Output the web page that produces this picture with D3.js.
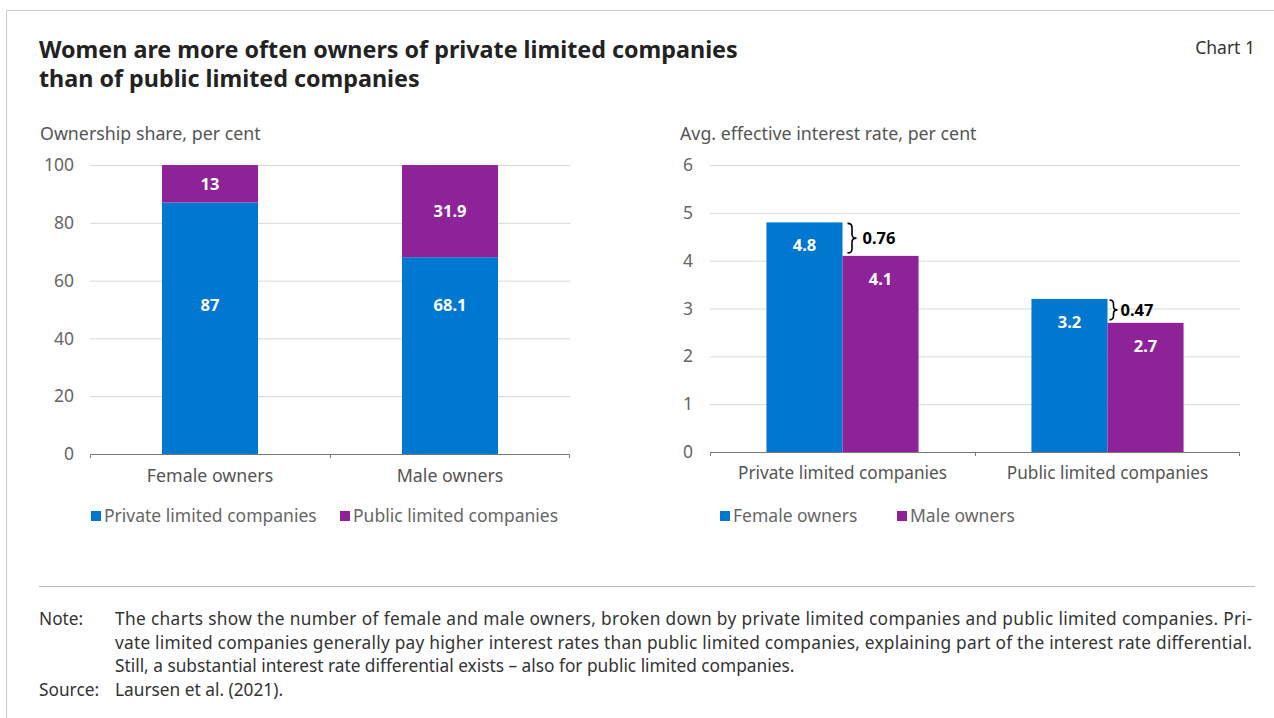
<!DOCTYPE html>
<html>
<head>
<meta charset="utf-8">
<script src="https://cdn.jsdelivr.net/npm/d3@7"></script>
<style>
  body { margin: 0; background: #fff; }
  svg { display: block; }
  text { font-family: "Noto Sans", sans-serif; }
</style>
</head>
<body>
<div id="chart"></div>
<script>
// ownership shares (left panel)
const owners = ["Female owners", "Male owners"];
const privateShare = [87, 68.1];
const publicShare = [13, 31.9];
const shareTicks = [0, 20, 40, 60, 80, 100];

// interest rates (right panel)
const companyTypes = ["Private limited companies", "Public limited companies"];
const femaleRate = [4.8, 3.2];
const maleRate = [4.1, 2.7];
const rateGap = [0.76, 0.47];
const rateTicks = [0, 1, 2, 3, 4, 5, 6];

const noteLines = [
  "The charts show the number of female and male owners, broken down by private limited companies and public limited companies. Pri-",
  "vate limited companies generally pay higher interest rates than public limited companies, explaining part of the interest rate differential.",
  "Still, a substantial interest rate differential exists \u2013 also for public limited companies."
];

const blue = "#0078d0", purple = "#8e2298";
const width = 1274, height = 718;

const svg = d3.select("#chart").append("svg")
  .attr("width", width).attr("height", height);

// frame
svg.append("path").attr("d", "M6.5,718 V10.5 H1274")
  .attr("fill", "none").attr("stroke", "#c8c8c8");

// title
const title = svg.append("text").attr("x", 39).attr("y", 58)
  .attr("font-size", 23.3).attr("font-weight", 700).attr("fill", "#222");
title.append("tspan").attr("x", 39).text("Women are more often owners of private limited companies");
title.append("tspan").attr("x", 39).attr("dy", 29).text("than of public limited companies");

svg.append("text").attr("x", 1255).attr("y", 54).attr("text-anchor", "end")
  .attr("font-size", 17.5).attr("fill", "#333").text("Chart 1");

// ---- left panel: stacked bars
const x1 = d3.scaleBand().domain(owners).range([90, 570]).paddingInner(0.6).paddingOuter(0.3);
const y1 = d3.scaleLinear().domain([0, 100]).range([454, 165]);

svg.append("text").attr("x", 40).attr("y", 140).attr("font-size", 17.8).attr("fill", "#555")
  .text("Ownership share, per cent");

const g1 = svg.append("g");
g1.append("g").selectAll("line").data(shareTicks.slice(1)).join("line")
  .attr("x1", 90).attr("x2", 570)
  .attr("y1", d => y1(d) + 0.5).attr("y2", d => y1(d) + 0.5)
  .attr("stroke", "#d9d9d9");
g1.append("g").selectAll("text").data(shareTicks).join("text")
  .attr("x", 74).attr("y", d => y1(d)).attr("dy", "0.35em")
  .attr("text-anchor", "end").attr("font-size", 17.5).attr("fill", "#666")
  .text(d => d);

g1.append("g").selectAll("rect").data(owners).join("rect")
  .attr("x", d => x1(d)).attr("width", x1.bandwidth())
  .attr("y", (d, i) => y1(privateShare[i]))
  .attr("height", (d, i) => y1(0) - y1(privateShare[i]))
  .attr("fill", blue);
g1.append("g").selectAll("rect").data(owners).join("rect")
  .attr("x", d => x1(d)).attr("width", x1.bandwidth())
  .attr("y", (d, i) => y1(privateShare[i] + publicShare[i]))
  .attr("height", (d, i) => y1(privateShare[i]) - y1(privateShare[i] + publicShare[i]))
  .attr("fill", purple);

// value labels
g1.append("g").selectAll("text").data(owners).join("text")
  .attr("x", d => x1(d) + x1.bandwidth() / 2)
  .attr("y", y1(51.5)).attr("dy", "0.35em")
  .attr("text-anchor", "middle").attr("font-size", 16.5).attr("font-weight", 700).attr("fill", "#fff")
  .text((d, i) => privateShare[i]);
g1.append("g").selectAll("text").data(owners).join("text")
  .attr("x", d => x1(d) + x1.bandwidth() / 2)
  .attr("y", (d, i) => y1(privateShare[i] + publicShare[i] / 2)).attr("dy", "0.35em")
  .attr("text-anchor", "middle").attr("font-size", 16.5).attr("font-weight", 700).attr("fill", "#fff")
  .text((d, i) => publicShare[i]);

// x axis
const ax1 = g1.append("g").attr("transform", "translate(0,454)")
  .call(d3.axisBottom(x1).tickSize(0).tickPadding(15));
ax1.select(".domain").attr("stroke", "#777").attr("d", "M90.5,4V0.5H569.5V4");
ax1.append("line").attr("x1", 330.5).attr("x2", 330.5).attr("y1", 0).attr("y2", 4).attr("stroke", "#777");
ax1.selectAll(".tick text").attr("font-size", 17.8).attr("fill", "#555")
  .attr("font-family", "Noto Sans, sans-serif");

// legend
function legend(g, items, xs, y) {
  items.forEach((it, i) => {
    g.append("rect").attr("x", xs[i]).attr("y", y - 5).attr("width", 10).attr("height", 10).attr("fill", it.c);
    g.append("text").attr("x", xs[i] + 13).attr("y", y).attr("dy", "0.35em")
      .attr("font-size", 17.5).attr("fill", "#666").text(it.t);
  });
}
legend(svg.append("g"), [{ t: companyTypes[0], c: blue }, { t: companyTypes[1], c: purple }], [91, 340], 516);

// ---- right panel: grouped bars
const x2 = d3.scaleBand().domain(companyTypes).range([710, 1240]).paddingInner(0.426).paddingOuter(0.213);
const sub = d3.scaleBand().domain(["f", "m"]).range([0, x2.bandwidth()]);
const y2 = d3.scaleLinear().domain([0, 6]).range([452, 165]);

svg.append("text").attr("x", 680).attr("y", 140).attr("font-size", 17.8).attr("fill", "#555")
  .text("Avg. effective interest rate, per cent");

const g2 = svg.append("g");
g2.append("g").selectAll("line").data(rateTicks.slice(1)).join("line")
  .attr("x1", 710).attr("x2", 1240)
  .attr("y1", d => y2(d) + 0.5).attr("y2", d => y2(d) + 0.5)
  .attr("stroke", "#d9d9d9");
g2.append("g").selectAll("text").data(rateTicks).join("text")
  .attr("x", 693).attr("y", d => y2(d)).attr("dy", "0.35em")
  .attr("text-anchor", "end").attr("font-size", 17.5).attr("fill", "#666")
  .text(d => d);

const series = [{ k: "f", v: femaleRate, c: blue }, { k: "m", v: maleRate, c: purple }];
series.forEach(s => {
  g2.append("g").selectAll("rect").data(companyTypes).join("rect")
    .attr("x", d => x2(d) + sub(s.k)).attr("width", sub.bandwidth())
    .attr("y", (d, i) => y2(s.v[i]))
    .attr("height", (d, i) => y2(0) - y2(s.v[i]))
    .attr("fill", s.c);
  g2.append("g").selectAll("text").data(companyTypes).join("text")
    .attr("x", d => x2(d) + sub(s.k) + sub.bandwidth() / 2)
    .attr("y", (d, i) => y2(s.v[i]) + 23).attr("dy", "0.35em")
    .attr("text-anchor", "middle").attr("font-size", 16.5).attr("font-weight", 700).attr("fill", "#fff")
    .text((d, i) => s.v[i].toFixed(1));
});

// braces showing the gap
function brace(x, ya, yb, w) {
  const m = (ya + yb) / 2, h = w / 2, r = Math.min(4, (yb - ya) / 4);
  return `M${x},${ya} Q${x + h},${ya} ${x + h},${ya + r} L${x + h},${m - r} Q${x + h},${m} ${x + w},${m}` +
    ` Q${x + h},${m} ${x + h},${m + r} L${x + h},${yb - r} Q${x + h},${yb} ${x},${yb}`;
}
const braceW = [9, 8], braceX = [5, 2], gapDx = [15, 11];
companyTypes.forEach((c, i) => {
  const bx = x2(c) + sub.bandwidth() + braceX[i];
  const ya = y2(femaleRate[i]) + 1, yb = y2(maleRate[i]) - 3;
  g2.append("path").attr("d", brace(bx, ya, yb, braceW[i]))
    .attr("fill", "none").attr("stroke", "#000").attr("stroke-width", 1.6);
  g2.append("text").attr("x", bx + gapDx[i]).attr("y", (ya + yb) / 2).attr("dy", "0.35em")
    .attr("font-size", 16.5).attr("font-weight", 700).attr("fill", "#000").text(rateGap[i]);
});

const ax2 = g2.append("g").attr("transform", "translate(0,452)")
  .call(d3.axisBottom(x2).tickSize(0).tickPadding(15));
ax2.select(".domain").attr("stroke", "#777").attr("d", "M710.5,4V0.5H1239.5V4");
ax2.append("line").attr("x1", 975.5).attr("x2", 975.5).attr("y1", 0).attr("y2", 4).attr("stroke", "#777");
ax2.selectAll(".tick text").attr("font-size", 17.2).attr("fill", "#555")
  .attr("font-family", "Noto Sans, sans-serif");

legend(svg.append("g"), [{ t: owners[0], c: blue }, { t: "Male owners", c: purple }], [720, 897], 516);

// ---- note
svg.append("line").attr("x1", 39).attr("x2", 1255).attr("y1", 586.5).attr("y2", 586.5).attr("stroke", "#bbb");
const note = svg.append("g").attr("font-size", 17.3).attr("fill", "#333");
note.append("text").attr("x", 39).attr("y", 625).text("Note:");
noteLines.forEach((t, i) => {
  const tx = note.append("text").attr("x", 115).attr("y", 625 + i * 23.5).text(t);
  if (i < 2) tx.attr("textLength", 1137).attr("lengthAdjust", "spacing");
});
note.append("text").attr("x", 39).attr("y", 696).text("Source:");
note.append("text").attr("x", 115).attr("y", 696).text("Laursen et al. (2021).");
</script>
</body>
</html>
